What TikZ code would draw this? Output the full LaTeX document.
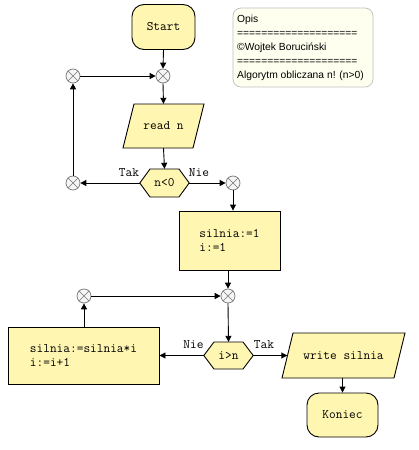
\documentclass[tikz,border=0pt]{standalone}
\usepackage{fontspec}
\setmainfont{Liberation Sans}
\usetikzlibrary{arrows.meta}
\definecolor{boxfill}{RGB}{255,246,178}
\definecolor{notefill}{RGB}{255,255,240}
\definecolor{noteline}{RGB}{190,190,190}
\definecolor{jline}{RGB}{120,120,120}
\tikzset{
  x=1pt,y=-1pt,
  flow/.style={line width=0.9pt,-{Triangle[length=6pt,width=6pt]}},
  mono/.style={font=\fontsize{13}{14}\ttfamily},
  shapefill/.style={fill=boxfill,draw=black,line width=0.9pt},
  anchorbox/.style={inner sep=0pt,mono},
  term/.style={shapefill,rounded corners=12pt,inner sep=0pt,mono},
  procbox/.style={shapefill,inner sep=0pt,mono,align=left},
  junction/.style={circle,minimum size=14pt,inner sep=0pt,draw=jline,fill=gray!8,line width=0.7pt,
    path picture={\draw[jline,line width=0.6pt]
      (path picture bounding box.center) ++(-4.95,-4.95) -- ++(9.9,9.9)
      (path picture bounding box.center) ++(-4.95,4.95) -- ++(9.9,-9.9);}},
  lbl/.style={mono,inner sep=0pt},
}
\begin{document}
\begin{tikzpicture}
\useasboundingbox[fill=white] (0,0) rectangle (418,450);

% Description note
\node[draw=noteline,fill=notefill,rounded corners=8pt,line width=0.7pt,
      minimum width=140pt,minimum height=79pt,inner sep=0pt] (opis) at (303,47.5) {};
\node[anchor=west,inner sep=0pt,font=\fontsize{10.3}{14}\selectfont,align=left] (opistxt) at (237,48)
  {Opis\\====================\\©Wojtek Boruciński\\====================\\Algorytm obliczana n! (n>0)};

% Start
\node[term,minimum width=63pt,minimum height=45pt] (start) at (163.5,27) {Start};

% junctions top
\node[junction] (j1) at (163,76) {};
\node[junction] (jtl) at (73,76) {};
\node[junction] (jbl) at (73,183) {};
\node[junction] (jr) at (233,183) {};

% read n
\node[anchorbox,minimum width=70pt,minimum height=44pt] (rn) at (163.5,126) {};
\draw[shapefill] (134,104) -- (204,104) -- (193,148) -- (123,148) -- cycle;
\node[mono,inner sep=0pt] at (rn.center) {read n};

% decision n<0
\node[anchorbox,minimum width=49pt,minimum height=28pt] (d1) at (164.5,183) {};
\draw[shapefill] (d1.west) -- (150,169) -- (179,169) -- (d1.east) -- (179,197) -- (150,197) -- cycle;
\node[mono,inner sep=0pt] at (d1.center) {n<0};
\node[lbl] at (129,173) {Tak};
\node[lbl] at (199,173) {Nie};

% box1
\node[procbox,minimum width=101pt,minimum height=59pt] (b1) at (229.5,240.5) {silnia:=1\\i:=1};

% junctions bottom
\node[junction] (j2) at (228,296) {};
\node[junction] (jl2) at (84,296) {};

% box2
\node[procbox,minimum width=151pt,minimum height=57pt] (b2) at (83.5,355.5) {silnia:=silnia*i\\i:=i+1};

% decision i>n
\node[anchorbox,minimum width=49pt,minimum height=27pt] (d2) at (228.5,355.5) {};
\draw[shapefill] (d2.west) -- (214,342) -- (243,342) -- (d2.east) -- (243,369) -- (214,369) -- cycle;
\node[mono,inner sep=0pt] at (d2.center) {i>n};
\node[lbl] at (193.5,345) {Nie};
\node[lbl] at (264,345) {Tak};

% write silnia
\node[anchorbox,minimum width=112pt,minimum height=45pt] (ws) at (343.5,355.5) {};
\draw[shapefill] (293,333) -- (405,333) -- (394,378) -- (282,378) -- cycle;
\node[mono,inner sep=0pt] at (ws.center) {write silnia};

% Koniec
\node[term,minimum width=71pt,minimum height=44pt] (kon) at (342.5,415) {Koniec};

% connectors
\draw[flow] (start.south) -- (j1.north);
\draw[flow] (jtl.east) -- (j1.west);
\draw[flow] (j1.south) -- (rn.north);
\draw[flow] (rn.south) -- (d1.north);
\draw[flow] (d1.west) -- (jbl.east);
\draw[flow] (jbl.north) -- (jtl.south);
\draw[flow] (d1.east) -- (jr.west);
\draw[flow] (jr.south) -- (jr.south |- b1.north);
\draw[flow] (j2.north |- b1.south) -- (j2.north);
\draw[flow] (jl2.east) -- (j2.west);
\draw[flow] (b2.north -| jl2.south) -- (jl2.south);
\draw[flow] (j2.south) -- (d2.north);
\draw[flow] (d2.west) -- (b2.east);
\draw[flow] (d2.east) -- (ws.west);
\draw[flow] (ws.south -| kon.north) -- (kon.north);
\end{tikzpicture}
\end{document}
